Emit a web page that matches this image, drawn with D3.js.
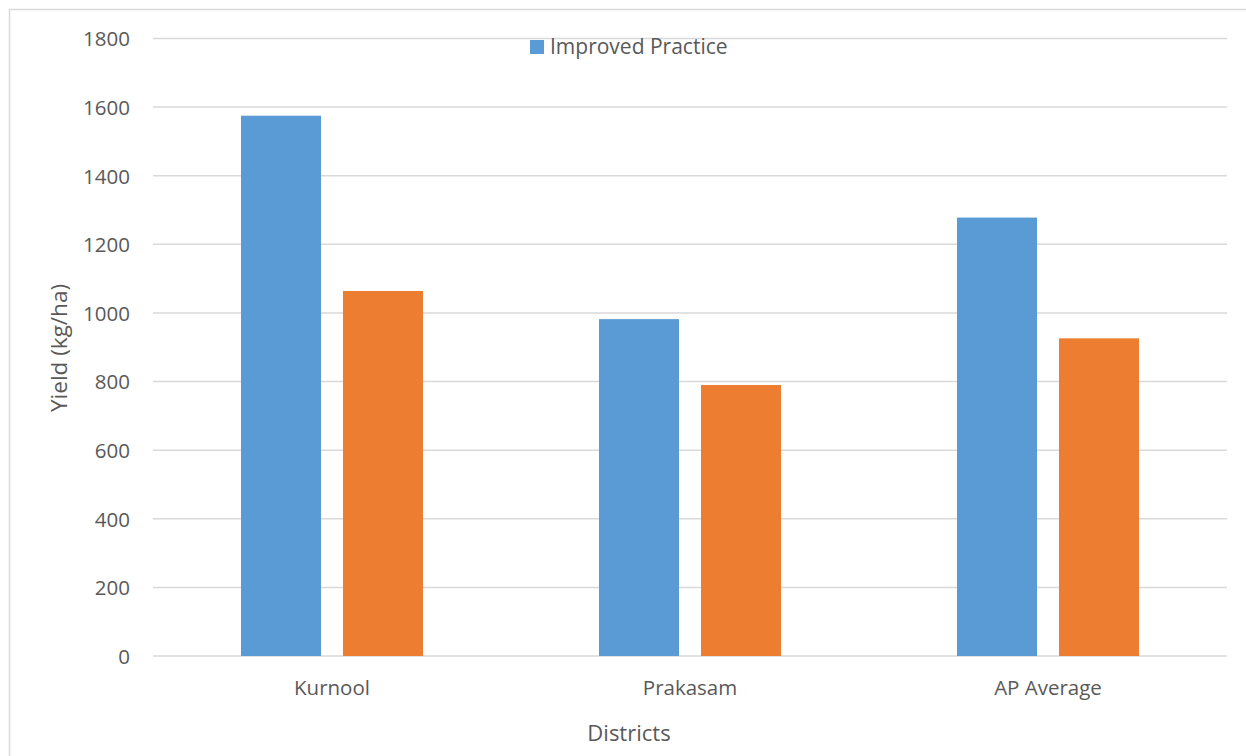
<!DOCTYPE html>
<html>
<head>
<meta charset="utf-8">
<script src="https://cdn.jsdelivr.net/npm/d3@7"></script>
<style>
  html, body { margin: 0; padding: 0; background: #fff; }
  svg { display: block; }
  text { font-family: "Open Sans", "Noto Sans", sans-serif; fill: #595959; }
</style>
</head>
<body>
<div id="chart"></div>
<script>
// Yield by district (kg/ha)
const districts = ["Kurnool", "Prakasam", "AP Average"];
const seriesNames = ["Improved Practice", "Farmers Practice"];
const improvedPractice = [1575, 982, 1278];
const farmersPractice = [1064, 790, 926];
const seriesColors = ["#5B9BD5", "#ED7D31"];
const yTicks = [0, 200, 400, 600, 800, 1000, 1200, 1400, 1600, 1800];
const legendEntries = ["Improved Practice"];

const W = 1246, H = 756;
const plot = { left: 153, right: 1227, top: 38.5, bottom: 656 };

const svg = d3.select("#chart").append("svg")
  .attr("width", W).attr("height", H);

// outer chart frame
svg.append("rect")
  .attr("x", 9.5).attr("y", 9.5)
  .attr("width", W + 20).attr("height", H + 20)
  .attr("fill", "#fff")
  .attr("stroke", "#D9D9D9").attr("stroke-width", 1.5);

const y = d3.scaleLinear().domain([0, 1800]).range([plot.bottom, plot.top]);

const x0 = d3.scaleBand().domain(districts)
  .range([plot.left, plot.right]).paddingInner(0).paddingOuter(0);

const groupW = 182;
const x1 = d3.scaleBand().domain(seriesNames)
  .range([(x0.bandwidth() - groupW) / 2, (x0.bandwidth() + groupW) / 2])
  .paddingInner(22 / 102).paddingOuter(0);

// horizontal gridlines
svg.append("g").selectAll("line").data(yTicks).join("line")
  .attr("x1", plot.left).attr("x2", plot.right)
  .attr("y1", d => y(d)).attr("y2", d => y(d))
  .attr("stroke", "#D9D9D9").attr("stroke-width", 1.5);

// y axis labels
const yAxis = d3.axisLeft(y).tickValues(yTicks).tickFormat(d3.format("d"))
  .tickSize(0).tickPadding(0);
const gy = svg.append("g").attr("transform", "translate(130,0)").call(yAxis);
gy.select(".domain").remove();
gy.selectAll("text")
  .attr("font-family", null)
  .style("font-size", "20.5px")
  .attr("fill", "#595959")
  .attr("dy", "0.36em");

// bars
const rows = districts.map((d, i) => ({
  district: d,
  values: [improvedPractice[i], farmersPractice[i]]
}));

const groups = svg.append("g").selectAll("g").data(rows).join("g")
  .attr("transform", d => `translate(${x0(d.district)},0)`);

groups.selectAll("rect")
  .data(d => d.values.map((v, j) => ({ key: seriesNames[j], value: v, j })))
  .join("rect")
  .attr("x", d => x1(d.key))
  .attr("width", x1.bandwidth())
  .attr("y", d => y(d.value))
  .attr("height", d => y(0) - y(d.value))
  .attr("fill", d => seriesColors[d.j]);

// x axis category labels
const xAxis = d3.axisBottom(x0).tickSize(0).tickPadding(0);
const gx = svg.append("g").attr("transform", `translate(0,${plot.bottom})`).call(xAxis);
gx.select(".domain").remove();
gx.selectAll("text")
  .attr("font-family", null)
  .style("font-size", "20.5px")
  .attr("fill", "#595959")
  .attr("y", 39).attr("dy", 0);

// axis titles
svg.append("text")
  .attr("x", (plot.left + plot.right) / 2 - 61)
  .attr("y", 741)
  .attr("text-anchor", "middle")
  .style("font-size", "22px")
  .text("Districts");

svg.append("text")
  .attr("transform", "translate(67,348) rotate(-90)")
  .attr("text-anchor", "middle")
  .style("font-size", "22.5px")
  .text("Yield (kg/ha)");

// legend
const legend = svg.append("g").attr("transform", "translate(530,40)");
const li = legend.selectAll("g").data(legendEntries).join("g");
li.append("rect")
  .attr("width", 14).attr("height", 14)
  .attr("fill", (d, i) => seriesColors[i]);
li.append("text")
  .attr("x", 20).attr("y", 14)
  .style("font-size", "21px")
  .text(d => d);
</script>
</body>
</html>
